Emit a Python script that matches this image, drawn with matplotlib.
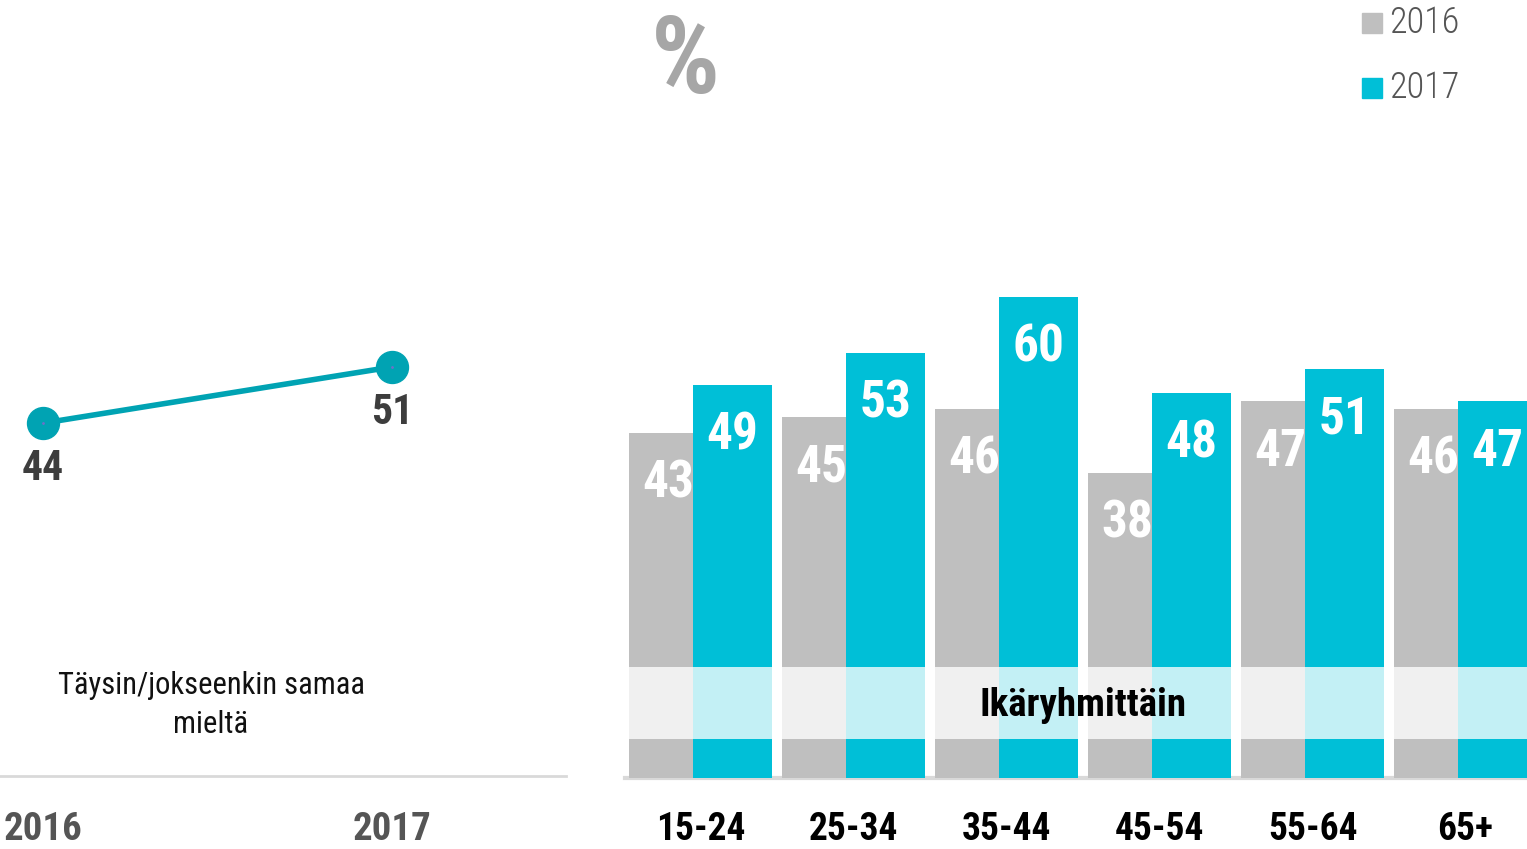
import matplotlib
matplotlib.use("Agg")
import matplotlib.pyplot as plt

plt.rcParams['font.family'] = ['Roboto Condensed', 'Asap Condensed', 'Archivo Narrow', 'DejaVu Sans']

# ---- data ----
years = ["2016", "2017"]
overall = [44, 51]
age_groups = ["15-24", "25-34", "35-44", "45-54", "55-64", "65+"]
vals_2016 = [43, 45, 46, 38, 47, 46]
vals_2017 = [49, 53, 60, 48, 51, 47]
series_names = ["2016", "2017"]
line_caption = "Täysin/jokseenkin samaa\nmieltä"
band_label = "Ikäryhmittäin"

GREY = "#bfbfbf"
CYAN = "#00bfd7"
TEAL = "#00a3b3"

W, H = 1527, 849
fig = plt.figure(figsize=(W / 100, H / 100), dpi=100)

PX = 8.02  # pixels per data unit

# ---- left: line panel ----
axl = fig.add_axes([0, (H - 776) / H, 566 / W, 776 / H])
xs = list(range(len(years)))
axl.plot(xs, overall, color=TEAL, lw=4, marker="o", ms=23, mfc=TEAL, mec=TEAL,
         solid_capstyle="butt", zorder=3)
axl.plot(xs, overall, ls="none", marker="o", ms=2, mfc="#6f6fc8", mec="none",
         zorder=4)
axl.set_xlim(-43 / 349, (566 - 43) / 349)
axl.set_ylim(0, 776 / PX)
for x, v in zip(xs, overall):
    axl.text(x, v - 5.7, str(v), ha="center", va="center", fontsize=30,
             fontweight="bold", color="#3d3d3d")
axl.axhline(0, color="#d9d9d9", lw=2, clip_on=False)
axl.text(168 / 349, (776 - 705) / PX, line_caption, ha="center",
         va="center", fontsize=22, color="#111111", linespacing=1.45)
for x, y in zip(xs, years):
    axl.text(x, -(840 - 776) / PX, y, ha="center", va="baseline", fontsize=28,
             fontweight="bold", color="#555555", clip_on=False)
axl.axis("off")

# ---- right: grouped bars ----
axb = fig.add_axes([625 / W, (H - 778) / H, (W - 625) / W, 778 / H])
bw = 79 / 153
off = 64 / 153
gx = list(range(len(age_groups)))
axb.bar(gx, vals_2016, width=bw, color=GREY, zorder=1, label=series_names[0])
axb.bar([g + off for g in gx], vals_2017, width=bw, color=CYAN, zorder=2,
        label=series_names[1])
axb.set_xlim(-43.5 / 153, (W - 668.5) / 153)
axb.set_ylim(0, 778 / PX)

for g, v in zip(gx, vals_2016):
    axb.text(g, v - 6.3, str(v), ha="center", va="center", fontsize=37,
             fontweight="bold", color="white", zorder=3)
for g, v in zip(gx, vals_2017):
    axb.text(g + off, v - 6.3, str(v), ha="center", va="center", fontsize=37,
             fontweight="bold", color="white", zorder=3)

# translucent band with label
axb.axhspan((778 - 739) / PX, (778 - 667) / PX, xmin=4 / 902, xmax=1,
            color="white", alpha=0.77, lw=0, zorder=4)
axb.text((1083 - 668.5) / 153, (778 - 705) / PX, band_label, ha="center",
         va="center", fontsize=28, fontweight="bold", color="black", zorder=5)

axb.axhline(0, color="#d9d9d9", lw=3, zorder=0, clip_on=False)
for g, lab in zip(gx, age_groups):
    axb.text(g + off / 2, -(829 - 778) / PX, lab, ha="center", va="center",
             fontsize=27, fontweight="bold", color="black", clip_on=False)
axb.axis("off")

# "%" sign
fig.text(685 / W, 1 - 64 / H, "%", ha="center", va="center", fontsize=78,
         fontweight="bold", color="#a6a6a6")

# legend (manual)
for i, (name, col) in enumerate(zip(series_names, [GREY, CYAN])):
    yc = 23 + 65 * i
    fig.patches.append(plt.Rectangle((1362 / W, 1 - (yc + 10) / H), 20 / W, 20 / H,
                                     transform=fig.transFigure, color=col))
    fig.text(1389 / W, 1 - yc / H, name, ha="left", va="center", fontsize=26,
             fontweight="light", color="#555555")

fig.savefig("out.png", dpi=100)
